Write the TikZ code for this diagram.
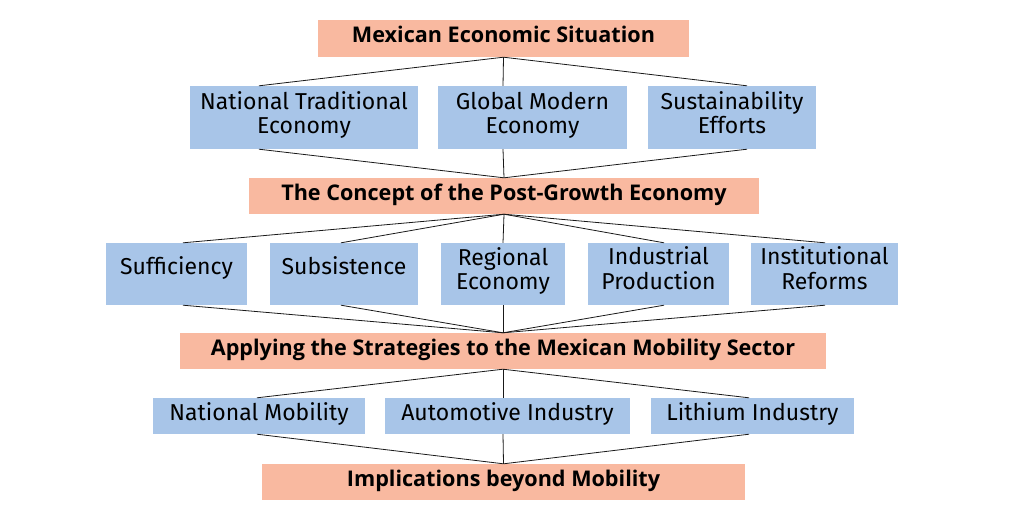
\documentclass[tikz,border=0pt]{standalone}
\usepackage{fontspec}
\setmainfont{Fira Sans}
\newfontfamily\headfont{Open Sans}
\usetikzlibrary{calc}
\definecolor{salmon}{HTML}{F9B9A0}
\definecolor{skyblue}{HTML}{A8C5E8}
\newcommand{\twolines}[3]{\raisebox{#1}[\height][\depth]{\begin{tabular}{@{}c@{}}#2\\#3\end{tabular}}}
\tikzset{
  headbox/.style={fill=salmon, draw=none, inner sep=0pt, anchor=center,
    text height=18.4pt, text depth=10pt,
    font=\fontsize{21.6}{24}\selectfont\headfont\bfseries},
  itembox/.style={fill=skyblue, draw=none, inner sep=0pt, anchor=center,
    font=\fontsize{23}{24}\selectfont},
  itemrow/.style={itembox, text height=18.8pt, text depth=10pt},
  itemhigh/.style={itembox, text height=13pt, text depth=12pt},
  link/.style={draw=black!90, line width=0.8pt}
}
\begin{document}
\begin{tikzpicture}[x=1pt,y=-1pt]
\useasboundingbox (0,0) rectangle (1024,531);
% level 1
\node[headbox, minimum width=371pt, minimum height=37pt] (top) at (503.5,38.5) {Mexican Economic Situation};
% level 2
\node[itembox, minimum width=228pt, minimum height=63pt] (nte) at (304,117.5) {\twolines{1.2pt}{National Traditional}{Economy}};
\node[itembox, minimum width=189pt, minimum height=63pt] (gme) at (532.5,117.5) {\twolines{1.2pt}{Global Modern}{Economy}};
\node[itembox, minimum width=168pt, minimum height=63pt] (se) at (732,117.5) {\twolines{1.2pt}{Sustainability}{Efforts}};
% level 3
\node[headbox, minimum width=510pt, minimum height=36pt] (pg) at (504,196) {The Concept of the Post-Growth Economy};
% level 4
\node[itemhigh, minimum width=141pt, minimum height=62pt] (suf) at (176.5,274) {Sufficiency};
\node[itemhigh, minimum width=148pt, minimum height=62pt] (sub) at (344,274) {Subsistence};
\node[itembox, minimum width=124pt, minimum height=62pt] (reg) at (503,274) {\twolines{2.3pt}{Regional}{Economy}};
\node[itembox, minimum width=141pt, minimum height=62pt] (ind) at (658.5,274) {\twolines{2.3pt}{Industrial}{Production}};
\node[itembox, minimum width=147pt, minimum height=62pt] (ins) at (824.5,274) {\twolines{2.3pt}{Institutional}{Reforms}};
% level 5
\node[headbox, minimum width=646pt, minimum height=36pt] (app) at (503,351) {Applying the Strategies to the Mexican Mobility Sector};
% level 6
\node[itemrow, minimum width=212pt, minimum height=36pt] (nm) at (259,416) {National Mobility};
\node[itemrow, minimum width=245pt, minimum height=36pt] (ai) at (507.5,416) {Automotive Industry};
\node[itemrow, minimum width=203pt, minimum height=36pt] (li) at (752.5,416) {Lithium Industry};
% level 7
\node[headbox, minimum width=483pt, minimum height=36pt] (imp) at (503.5,482) {Implications beyond Mobility};
% connectors level 1 -> 2 -> 3
\draw[link] (top.south) -- ([xshift=-45pt]nte.north);
\draw[link] (top.south) -- ([xshift=-29.5pt]gme.north);
\draw[link] (top.south) -- ([xshift=15pt]se.north);
\draw[link] ([xshift=-45pt]nte.south) -- (pg.north);
\draw[link] ([xshift=-29.5pt]gme.south) -- (pg.north);
\draw[link] ([xshift=15pt]se.south) -- (pg.north);
% connectors level 3 -> 4 -> 5
\draw[link] (pg.south) -- ([xshift=6.5pt]suf.north);
\draw[link] (pg.south) -- ([xshift=-3pt]sub.north);
\draw[link] (pg.south) -- (reg.north);
\draw[link] (pg.south) -- ([xshift=5.5pt]ind.north);
\draw[link] (pg.south) -- ([xshift=0.5pt]ins.north);
\draw[link] ([xshift=6.5pt]suf.south) -- (app.north);
\draw[link] ([xshift=-3pt]sub.south) -- (app.north);
\draw[link] (reg.south) -- (app.north);
\draw[link] ([xshift=5.5pt]ind.south) -- (app.north);
\draw[link] ([xshift=0.5pt]ins.south) -- (app.north);
% connectors level 5 -> 6 -> 7
\draw[link] (app.south) -- ([xshift=-2pt]nm.north);
\draw[link] (app.south) -- ([xshift=-4.5pt]ai.north);
\draw[link] (app.south) -- ([xshift=-3.5pt]li.north);
\draw[link] ([xshift=-2pt]nm.south) -- (imp.north);
\draw[link] ([xshift=-4.5pt]ai.south) -- (imp.north);
\draw[link] ([xshift=-3.5pt]li.south) -- (imp.north);
\end{tikzpicture}
\end{document}
